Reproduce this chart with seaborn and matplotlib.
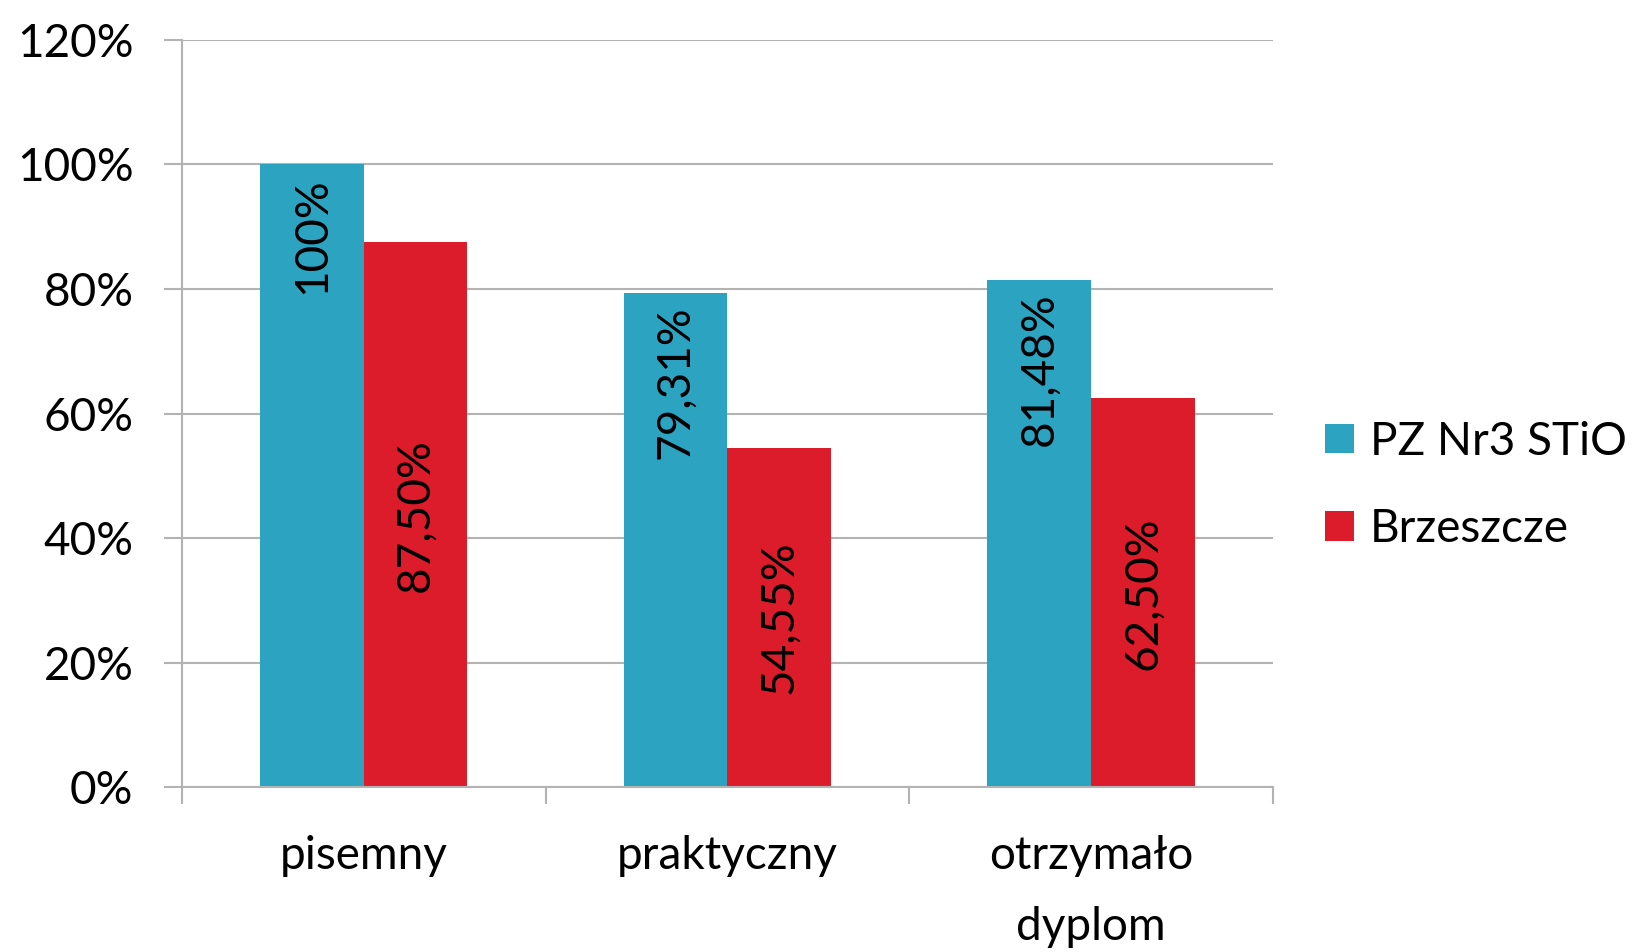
import matplotlib
matplotlib.use("Agg")
import matplotlib.pyplot as plt
import matplotlib.ticker as mticker
from matplotlib.patches import Patch
import seaborn as sns
import pandas as pd

# dane z wykresu
kategorie = ["pisemny", "praktyczny", "otrzymało\ndyplom"]
serie = ["PZ Nr3 STiO", "Brzeszcze"]
pz_nr3 = [100.0, 79.31, 81.48]
brzeszcze = [87.50, 54.55, 62.50]
kolory = ["#2CA3C0", "#DC1C2A"]

df = pd.DataFrame({
    "kategoria": kategorie * 2,
    "seria": [serie[0]] * 3 + [serie[1]] * 3,
    "wynik": pz_nr3 + brzeszcze,
})


def etykieta(v: float) -> str:
    if v == 100:
        return "100%"
    return f"{v:.2f}".replace(".", ",") + "%"


sns.set_style("white")
plt.rcParams["font.family"] = ["Lato", "DejaVu Sans"]
plt.rcParams["text.color"] = "black"
plt.rcParams["xtick.color"] = "black"
plt.rcParams["ytick.color"] = "black"

FS = 33

fig = plt.figure(figsize=(16.44, 9.52), dpi=100)
ax = fig.add_axes([0.1107, 0.1728, 0.6636, 0.7854])

sns.barplot(data=df, x="kategoria", y="wynik", hue="seria", palette=kolory,
            width=0.57, gap=0, saturation=1, linewidth=0, ax=ax, legend=False)

ax.set_ylim(0, 120)
ax.set_xlim(-0.5, 2.5)
ax.yaxis.set_major_locator(mticker.MultipleLocator(20))
ax.yaxis.set_major_formatter(mticker.FuncFormatter(lambda v, _: f"{v:.0f}%"))
ax.grid(axis="y", color="#b3b3b3", linewidth=1.5)
ax.set_axisbelow(True)

for s in ["top", "right"]:
    ax.spines[s].set_visible(False)
for s in ["left", "bottom"]:
    ax.spines[s].set_color("#b3b3b3")
    ax.spines[s].set_linewidth(1.5)

ax.tick_params(axis="y", length=13, width=1.5, color="#b3b3b3", pad=22,
               labelsize=FS, labelcolor="black", left=True)
ax.set_xticks([0, 1, 2])
ax.set_xticklabels(kategorie, linespacing=1.85)
ax.tick_params(axis="x", which="major", length=0, pad=34, labelsize=FS,
               labelcolor="black")
ax.xaxis.set_minor_locator(mticker.FixedLocator([-0.5, 0.5, 1.5, 2.5]))
ax.tick_params(axis="x", which="minor", length=12, width=1.5,
               color="#b3b3b3", bottom=True)
for lab in ax.get_xticklabels():
    lab.set_verticalalignment("top")
ax.set_xlabel("")
ax.set_ylabel("")

# etykiety danych
for i, cont in enumerate(ax.containers):
    for bar in cont:
        v = bar.get_height()
        xc = bar.get_x() + bar.get_width() / 2
        if i == 0:
            ax.annotate(etykieta(v), (xc, v), xytext=(0, -9),
                        textcoords="offset points", rotation=90,
                        ha="center", va="top", fontsize=FS, color="black")
        else:
            ax.text(xc, v / 2, etykieta(v), rotation=90, ha="center",
                    va="center", fontsize=FS, color="black")

uchwyty = [Patch(facecolor=c, edgecolor="none") for c in kolory]
fig.legend(uchwyty, serie, loc="center left", bbox_to_anchor=(0.795, 0.49),
           frameon=False, fontsize=FS, handlelength=0.62, handleheight=0.62,
           handletextpad=0.35, labelspacing=1.0, borderaxespad=0)

fig.savefig("out.png", dpi=100)
